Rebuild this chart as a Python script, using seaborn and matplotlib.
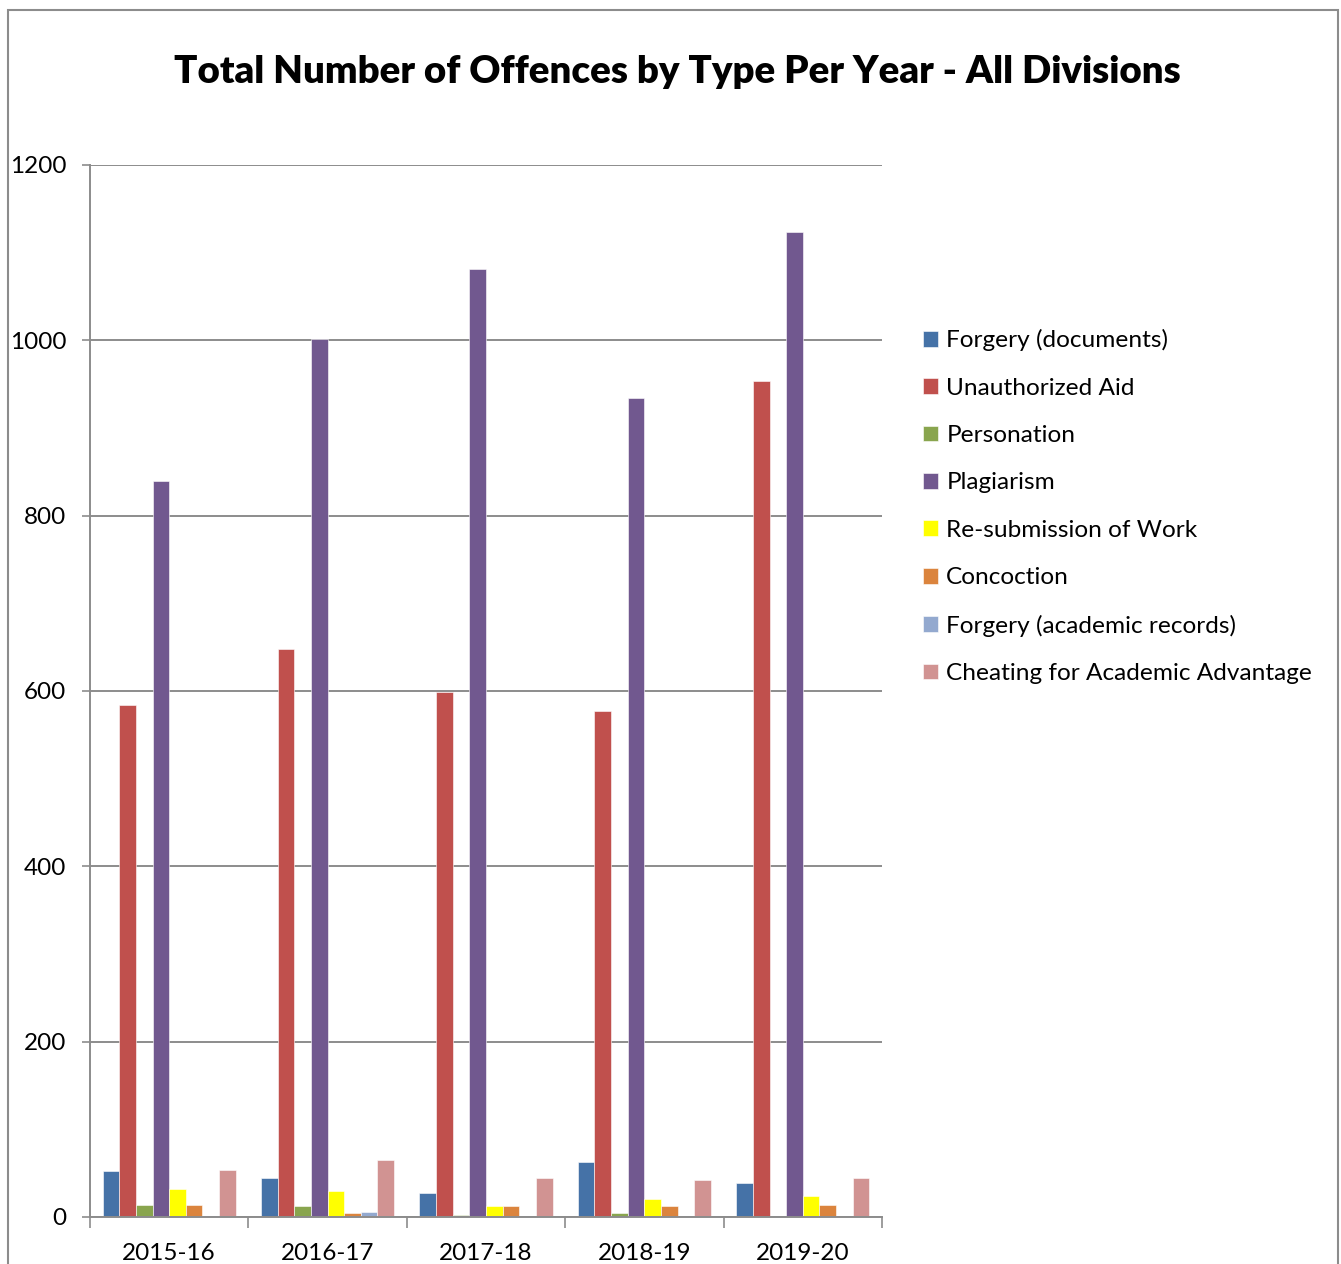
import pandas as pd
import seaborn as sns
import matplotlib.pyplot as plt
from matplotlib.patches import Rectangle

# Data
years = ["2015-16", "2016-17", "2017-18", "2018-19", "2019-20"]
offence_types = ["Forgery (documents)", "Unauthorized Aid", "Personation", "Plagiarism",
                 "Re-submission of Work", "Concoction", "Forgery (academic records)",
                 "Cheating for Academic Advantage"]
forgery_docs = [52, 45, 27, 63, 39]
unauthorized_aid = [584, 648, 599, 577, 953]
personation = [14, 12, 2, 5, 0]
plagiarism = [840, 1001, 1081, 934, 1123]
resubmission = [32, 30, 13, 20, 24]
concoction = [14, 5, 13, 12, 14]
forgery_records = [1, 6, 0, 0, 0]
cheating = [54, 65, 45, 42, 44]

colors = ["#4572A7", "#C0504D", "#89A54E", "#71588F", "#FFFF00", "#DB843D", "#93A9CF", "#D19392"]

series = [forgery_docs, unauthorized_aid, personation, plagiarism,
          resubmission, concoction, forgery_records, cheating]
rows = []
for name, vals in zip(offence_types, series):
    for yr, v in zip(years, vals):
        rows.append({"Year": yr, "Type": name, "Count": v})
data = pd.DataFrame(rows)

sns.set_style("white")
plt.rcParams["font.family"] = ["Lato", "DejaVu Sans"]
plt.rcParams["text.color"] = "black"

fig = plt.figure(figsize=(13.41, 12.64), dpi=100)
ax = fig.add_axes([0.0671, 0.0372, 0.5906, 0.8323])

sns.barplot(data=data, x="Year", y="Count", hue="Type", hue_order=offence_types,
            palette=colors, width=0.84, ax=ax, legend=True, saturation=1,
            edgecolor="white", linewidth=0.4)

ax.set_ylim(0, 1200)
ax.set_xlim(-0.5, 4.5)
ax.set_yticks(range(0, 1201, 200))
ax.yaxis.grid(True, color="#8c8c8c", linewidth=1.4)
ax.set_axisbelow(True)
ax.set_xlabel("")
ax.set_ylabel("")

for s in ["top", "right"]:
    ax.spines[s].set_visible(False)
for s in ["left", "bottom"]:
    ax.spines[s].set_color("#8c8c8c")
    ax.spines[s].set_linewidth(1.4)

ax.tick_params(axis="y", length=6, width=1.2, color="#8c8c8c", pad=11, labelsize=17.5,
               left=True, labelcolor="black")
ax.tick_params(axis="x", which="major", length=0, pad=19, labelsize=17.5, labelcolor="black")
ax.set_xticks([i - 0.5 for i in range(6)], minor=True)
ax.tick_params(axis="x", which="minor", length=8, width=1.2, color="#8c8c8c", bottom=True)

ax.legend(loc="upper left", bbox_to_anchor=(0.6716, 0.757), bbox_transform=fig.transFigure,
          frameon=False, fontsize=17.6, handlelength=0.62, handleheight=0.62,
          handletextpad=0.35, labelspacing=1.08)

fig.text(0.505, 0.943, "Total Number of Offences by Type Per Year - All Divisions",
         ha="center", va="center", fontsize=27.6, fontweight="heavy")

fig.patches.append(Rectangle((0.006, -0.01), 0.992, 1.002, transform=fig.transFigure,
                             fill=False, edgecolor="#8c8c8c", linewidth=1.5))

plt.savefig("out.png", dpi=100)
